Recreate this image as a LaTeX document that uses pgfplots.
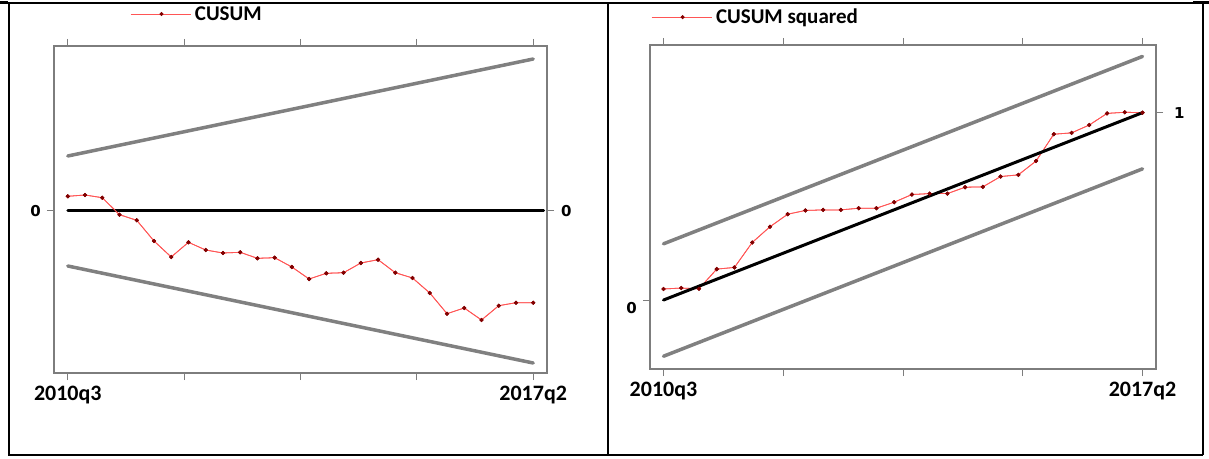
\documentclass[border=0pt]{standalone}
\usepackage{fontspec}
\setmainfont{Carlito}
\newfontfamily\dvs{DejaVu Sans}
\usepackage{pgfplots}
\usepackage{pgfplotstable}
\pgfplotsset{compat=1.18}

\definecolor{bnd}{RGB}{128,128,128}
\definecolor{axgray}{RGB}{125,125,125}
\definecolor{cred}{RGB}{255,85,85}
\definecolor{mred}{RGB}{130,0,0}

\pgfplotstableread{
t c
0 14.7
1 16.0
2 13.3
3 -3.7
4 -9.3
5 -30.0
6 -46.0
7 -31.3
8 -39.0
9 -42.0
10 -41.3
11 -47.3
12 -46.7
13 -56.0
14 -68.0
15 -62.3
16 -61.7
17 -52.0
18 -48.7
19 -61.7
20 -67.0
21 -82.0
22 -102.7
23 -97.0
24 -109.0
25 -94.7
26 -91.7
27 -91.7
}\cusum

\pgfplotstableread{
t c
0 0.059
1 0.064
2 0.060
3 0.165
4 0.174
5 0.307
6 0.391
7 0.458
8 0.478
9 0.481
10 0.481
11 0.490
12 0.490
13 0.522
14 0.563
15 0.568
16 0.568
17 0.602
18 0.604
19 0.659
20 0.668
21 0.742
22 0.885
23 0.892
24 0.934
25 0.996
26 1.002
27 1.000
}\cusumsq

\pgfplotsset{
  stcommon/.style={
    scale only axis,
    anchor=south west,
    axis line style={axgray, line width=1.1pt},
    tick style={axgray, line width=1pt},
    major tick length=7pt,
    tick align=outside,
    xtick={0,6.75,13.5,20.25,27},
    xticklabels={2010q3,,,,2017q2},
    xtick pos=both,
    xticklabel pos=lower,
    xticklabel style={font=\fontsize{22}{24}\selectfont\bfseries, inner sep=0pt, anchor=north, yshift=-6pt},
    yticklabel style={font=\dvs\bfseries\fontsize{15}{17}\selectfont, inner sep=0pt},
    clip=false,
  },
  datastyle/.style={cred, line width=0.8pt, mark=*, mark size=1.6pt, mark options={fill=mred, draw=mred}},
  bndstyle/.style={bnd, line width=3.5pt, line cap=round},
  zerostyle/.style={black, line width=3pt, line cap=round},
  leglong/.style={
    legend image code/.code={
      \draw[cred, line width=0.8pt] (0pt,0pt) -- (60pt,0pt);
      \fill[mred] (31pt,0pt) circle (1.6pt);
    },
    legend style={draw=none, fill=none, inner sep=0pt, font=\fontsize{21}{23}\selectfont\bfseries,
      nodes={inner sep=2pt}, column sep=2pt, legend cell align=left},
  },
}

\begin{document}
\begin{tikzpicture}
\path[use as bounding box] (0,0) rectangle (1209pt,458pt);
% table frame
\draw[black, line width=1.5pt] (8pt,455pt) -- (1203pt,455pt);
\draw[black, line width=3pt] (0pt,455pt) -- (8pt,455pt);
\draw[black, line width=3pt] (1193pt,455pt) -- (1209pt,455pt);
\draw[black, line width=2.6pt] (8pt,3pt) -- (1203pt,3pt);
\draw[black, line width=2pt] (8.5pt,3pt) -- (8.5pt,455pt);
\draw[black, line width=2pt] (1203pt,3pt) -- (1203pt,455pt);
\draw[black, line width=2pt] (608pt,3pt) -- (608pt,455pt);

% ---------- left panel: CUSUM ----------
\begin{axis}[stcommon, leglong,
  at={(54pt,85pt)}, width=493pt, height=327pt,
  xmin=-0.8, xmax=27.8, ymin=-162, ymax=165,
  ytick={0}, yticklabels={0}, ytick pos=left,
  yticklabel style={anchor=east, xshift=-6pt},
  legend style={at={(0.154,1.098)}, anchor=west},
]
\addplot[datastyle] table[x=t,y=c]{\cusum};
\addlegendentry{CUSUM}
\addplot[bndstyle, forget plot] coordinates {(0,55) (27,152)};
\addplot[bndstyle, forget plot] coordinates {(0,-55) (27,-152)};
\addplot[zerostyle, forget plot] coordinates {(0,0) (27.6,0)};
\addplot[datastyle, forget plot] table[x=t,y=c]{\cusum};
\end{axis}
\begin{axis}[stcommon,
  at={(54pt,85pt)}, width=493pt, height=327pt,
  xmin=-0.8, xmax=27.8, ymin=-162, ymax=165,
  axis x line=none, axis y line*=right,
  ytick={0}, yticklabels={0}, yticklabel pos=right,
  yticklabel style={anchor=west, xshift=7pt},
]
\end{axis}

% ---------- right panel: CUSUM squared ----------
\begin{axis}[stcommon, leglong,
  at={(650pt,89pt)}, width=506pt, height=324pt,
  xmin=-0.76, xmax=27.76, ymin=-0.368, ymax=1.361,
  ytick={0}, yticklabels={0}, ytick pos=left,
  yticklabel style={anchor=east, xshift=-6pt, yshift=-8pt},
  legend style={at={(0.002,1.086)}, anchor=west},
]
\addplot[datastyle] table[x=t,y=c]{\cusumsq};
\addlegendentry{CUSUM squared}
\addplot[bndstyle, forget plot] coordinates {(0,0.30) (27,1.30)};
\addplot[bndstyle, forget plot] coordinates {(0,-0.30) (27,0.70)};
\addplot[datastyle, forget plot] table[x=t,y=c]{\cusumsq};
\addplot[zerostyle, forget plot] coordinates {(0,0) (27,1)};
\end{axis}
\begin{axis}[stcommon,
  at={(650pt,89pt)}, width=506pt, height=324pt,
  xmin=-0.76, xmax=27.76, ymin=-0.368, ymax=1.361,
  axis x line=none, axis y line*=right,
  ytick={1}, yticklabels={1}, yticklabel pos=right,
  yticklabel style={anchor=west, xshift=11pt},
]
\end{axis}
\end{tikzpicture}
\end{document}
